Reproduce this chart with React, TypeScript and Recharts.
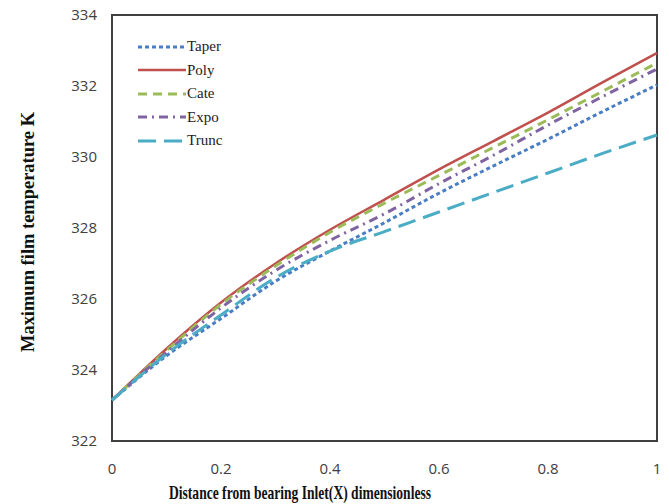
import { LineChart, Line, XAxis, YAxis, ReferenceArea, Label } from 'recharts'

const xs = [0, 0.1, 0.2, 0.3, 0.4, 0.5, 0.6, 0.7, 0.8, 0.9, 1]
const taper = [323.15, 324.4, 325.45, 326.5, 327.35, 328.15, 328.98, 329.75, 330.5, 331.28, 332.03]
const poly = [323.15, 324.6, 325.9, 327.0, 327.95, 328.8, 329.65, 330.45, 331.25, 332.1, 332.93]
const cate = [323.15, 324.55, 325.85, 326.93, 327.88, 328.7, 329.48, 330.27, 331.05, 331.85, 332.65]
const expo = [323.15, 324.5, 325.75, 326.8, 327.65, 328.4, 329.25, 330.05, 330.9, 331.7, 332.48]
const trunc = [323.15, 324.45, 325.55, 326.6, 327.35, 327.9, 328.45, 329.0, 329.55, 330.1, 330.62]

const xTicks = [0, 0.2, 0.4, 0.6, 0.8, 1]
const yTicks = [322, 324, 326, 328, 330, 332, 334]

const data = xs.map((x, i) => ({
  x,
  Taper: taper[i],
  Poly: poly[i],
  Cate: cate[i],
  Expo: expo[i],
  Trunc: trunc[i],
}))

const SERIES = [
  { key: 'Taper', color: '#4a7ec4', dash: '4 3', width: 3 },
  { key: 'Poly', color: '#c0504d', dash: undefined, width: 2.5 },
  { key: 'Cate', color: '#9bbb59', dash: '9 6', width: 3 },
  { key: 'Expo', color: '#8064a2', dash: '9 5 2 5', width: 3 },
  { key: 'Trunc', color: '#4bacc6', dash: '18 8', width: 3 },
]

const tickStyle = { fontFamily: '"Open Sans", sans-serif', fontSize: 15, fill: '#404040' }
const titleStyle = { fontFamily: '"Liberation Serif", serif', fontWeight: 'bold', fontSize: 19, fill: '#111' }

// legend sits inside the plot, top-left
function SeriesLegend() {
  return (
    <div
      style={{
        position: 'absolute',
        left: 138,
        top: 35,
        fontFamily: '"Liberation Serif", serif',
        fontSize: 15,
        color: '#222',
      }}
    >
      {SERIES.map((s) => (
        <div key={s.key} style={{ display: 'flex', alignItems: 'center', height: 23.5 }}>
          <svg width={48} height={6} style={{ marginRight: 1 }}>
            <line x1={0} y1={3} x2={48} y2={3} stroke={s.color} strokeWidth={s.width} strokeDasharray={s.dash} />
          </svg>
          {s.key}
        </div>
      ))}
    </div>
  )
}

export default function App() {
  return (
    <div style={{ position: 'absolute', left: 0, top: 0, width: 669, height: 504, background: '#fff' }}>
      <LineChart width={669} height={504} data={data} margin={{ top: 15, right: 12, left: 0, bottom: 0 }}>
        <XAxis
          dataKey="x"
          type="number"
          domain={[0, 1]}
          ticks={xTicks}
          tickSize={0}
          tickMargin={22}
          axisLine={false}
          height={63}
          tick={tickStyle}
        >
          <Label
            content={() => (
              <text x={300} y={499} textAnchor="middle" textLength={262} lengthAdjust="spacingAndGlyphs" style={titleStyle}>
                Distance from bearing Inlet(X) dimensionless
              </text>
            )}
          />
        </XAxis>
        <YAxis
          type="number"
          domain={[322, 334]}
          ticks={yTicks}
          tickSize={0}
          tickMargin={15}
          axisLine={false}
          width={112}
          tick={tickStyle}
        >
          <Label
            content={() => (
              <text
                x={0}
                y={0}
                transform="translate(34,232) rotate(-90)"
                textAnchor="middle"
                textLength={240}
                lengthAdjust="spacingAndGlyphs"
                style={{ ...titleStyle, fontSize: 18 }}
              >
                Maximum film temperature K
              </text>
            )}
          />
        </YAxis>
        <ReferenceArea x1={0} x2={1} y1={322} y2={334} fill="none" stroke="#404040" strokeWidth={2} ifOverflow="visible" />
        {SERIES.map((s) => (
          <Line
            key={s.key}
            type="monotone"
            dataKey={s.key}
            stroke={s.color}
            strokeWidth={s.width}
            strokeDasharray={s.dash}
            dot={false}
            isAnimationActive={false}
          />
        ))}
      </LineChart>
      <SeriesLegend />
    </div>
  )
}
